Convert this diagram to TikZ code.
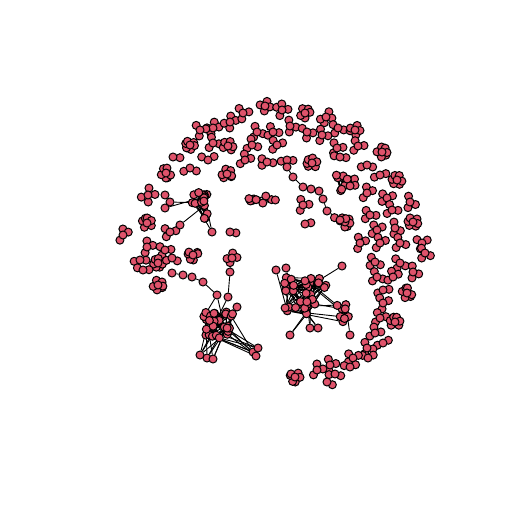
\documentclass[tikz,border=0pt]{standalone}
\usepackage{tikz}
\usetikzlibrary{calc}
\pgfdeclarelayer{bg}
\pgfsetlayers{bg,main}
\definecolor{vcol}{HTML}{DF536B}
\tikzset{
  vtx/.style={circle, draw=black, fill=vcol, line width=1pt, inner sep=0pt, minimum size=8pt},
  edg/.style={black, line width=0.9pt},
}

\begin{document}
\begin{tikzpicture}[x=1pt, y=-1pt]
  \useasboundingbox (0,0) rectangle (512,511);
  \pgfmathsetseed{11}
  % small components: ring of vertices round a centre vertex
  \foreach \nm/\x/\y/\n/\r in {
      g1/213/128/4/6, g2/230/122/4/6, g3/243/113/3/6, g4/265/106/4/5,
      g5/282/110/4/6, g6/305/113/5/5, g7/326/117/4/6, g8/338/128/3/6,
      g9/355/130/5/5, g10/290/126/3/6, g11/307/132/3/6, g12/322/135/3/6,
      g13/257/132/3/6, g14/273/132/3/6, g15/200/130/3/6, g17/190/145/6/4.5,
      g18/213/143/3/6, g19/228/146/5/5, g20/252/145/3/6, g21/277/145/3/6,
      g22/337/148/3/6, g23/358/146/3/6, g24/382/152/6/5, g25/173/157/1/7,
      g26/245/160/3/6, g27/267/162/3/6, g28/287/160/2/6, g29/312/163/6/5,
      g30/340/157/2/6, g31/367/165/2/6, g33/166/173/6/5, g34/227/174/6/5,
      g35/190/168/2/7, g36/208/160/2/7, g37/148/195/4/7, g38/147/223/6/5,
      g39/123/235/3/6, g40/170/232/3/6, g41/230/232/1/6, g43/397/180/6/5,
      g44/380/175/2/6, g45/367/193/3/6, g46/387/198/3/6, g47/410/202/3/6,
      g48/303/205/3/6, g50/345/222/6/5, g51/305/224/1/6, g52/370/215/3/6,
      g53/392/210/3/6, g54/413/222/6/5, g55/377/230/3/6, g56/395/228/3/6,
      g57/360/243/3/6, g58/380/243/3/6, g59/400/243/3/6, g60/422/243/3/6,
      g61/425/253/3/6, g62/375/262/3/6, g63/400/263/3/6, g64/413/272/3/6,
      g65/377/277/3/6, g66/393/277/3/6, g67/407/293/6/5, g68/383/290/2/6,
      g69/383/303/3/6, g70/380/318/3/6, g71/395/322/6/5, g72/375/333/3/6,
      g73/383/343/2/6, g74/367/348/3/6, g75/368/358/2/6, g76/353/358/3/6,
      g77/350/367/2/6, g78/330/365/3/6, g79/335/374/2/6, g80/317/370/3/6,
      g81/327/382/1/6, g82/295/377/6/5, g83/147/247/3/6, g84/165/250/3/6,
      g85/193/255/6/5, g86/140/260/2/6, g87/158/263/6/4.5, g88/143/270/2/6,
      g89/172/258/2/6, g90/158/285/6/5, gA/232/258/4/5, g91/340/220/2/6}{
    \foreach \k in {1,...,\n}{
      \pgfmathsetmacro{\ang}{360*\k/\n+30*rand}
      \node[vtx] (\nm-\k) at ($(\x,\y)+(\ang:\r)$) {};
    }
    \node[vtx] (\nm-0) at (\x,\y) {};
    \begin{pgfonlayer}{bg}
      \foreach \k in {1,...,\n} \draw[edg] (\nm-0) -- (\nm-\k);
    \end{pgfonlayer}
  }
  % dense components
  \foreach \hn/\hx/\hy/\hrx/\hry/\hk in {A/218/326/17/14/28, B/305/296/21/19/32,
      C/199/205/10/14/16, D/346/183/11/8/11, E/265/200/17/4/9, S/343/312/6/10/8}{
    \foreach \k in {1,...,\hk}{
      \pgfmathsetmacro{\ax}{\hx+\hrx*rand}
      \pgfmathsetmacro{\ay}{\hy+\hry*rand}
      \node[vtx] (\hn\k) at (\ax,\ay) {};
    }
    \begin{pgfonlayer}{bg}
      \foreach \k in {1,...,\hk}{
        \foreach \m in {1,2,3}{
          \pgfmathtruncatemacro{\j}{min(\hk,1+floor(rnd*\hk))}
          \draw[edg] (\hn\k) -- (\hn\j);
        }
      }
    \end{pgfonlayer}
  }
  % spokes
  \node[vtx] (a1) at (172,273) {};
  \node[vtx] (a2) at (183,275) {};
  \node[vtx] (a3) at (192,277) {};
  \node[vtx] (a4) at (203,282) {};
  \node[vtx] (a5) at (217,295) {};
  \node[vtx] (a6) at (228,297) {};
  \node[vtx] (a7) at (237,307) {};
  \node[vtx] (a8) at (230,272) {};
  \node[vtx] (f1) at (200,355) {};
  \node[vtx] (f2) at (207,358) {};
  \node[vtx] (f3) at (213,359) {};
  \node[vtx] (f4) at (253,352) {};
  \node[vtx] (f5) at (258,348) {};
  \node[vtx] (f6) at (256,356) {};
  \node[vtx] (b1) at (276,270) {};
  \node[vtx] (b2) at (286,268) {};
  \node[vtx] (b3) at (342,266) {};
  \node[vtx] (b4) at (290,335) {};
  \node[vtx] (b5) at (310,328) {};
  \node[vtx] (b6) at (318,328) {};
  \node[vtx] (b7) at (350,335) {};
  \node[vtx] (c1) at (165,195) {};
  \node[vtx] (c2) at (170,202) {};
  \node[vtx] (c3) at (165,208) {};
  \node[vtx] (c4) at (180,225) {};
  \node[vtx] (c5) at (212,232) {};
  \node[vtx] (t1) at (287,167) {};
  \node[vtx] (t2) at (293,177) {};
  \node[vtx] (t3) at (303,187) {};
  \node[vtx] (t4) at (311,189) {};
  \node[vtx] (t5) at (319,191) {};
  \node[vtx] (t6) at (323,199) {};
  \node[vtx] (t7) at (327,211) {};
  \begin{pgfonlayer}{bg}
    \draw[edg] (a1) -- (a2) -- (a3) -- (a4) -- (a5);
    \draw[edg] (gA-0) -- (a8) -- (a6);
    \draw[edg] (c1) -- (c2) -- (c3);
    \draw[edg] (c4) -- (g40-0);
    \draw[edg] (t1) -- (t2) -- (t3) -- (t4) -- (t5) -- (t6) -- (t7) -- (g91-0);
    \foreach \s/\h/\m in {a5/A/28, a5/A/28, a6/A/28, a7/A/28, a7/A/28,
        f1/A/28, f1/A/28, f1/A/28, f1/A/28, f2/A/28, f2/A/28, f2/A/28, f3/A/28,
        f3/A/28, f3/A/28, f4/A/28, f4/A/28, f4/A/28, f4/A/28, f5/A/28,
        f5/A/28, f5/A/28, f6/A/28, f6/A/28, f6/A/28,
        b1/B/32, b2/B/32, b3/B/32, b4/B/32, b4/B/32, b5/B/32, b5/B/32, b6/B/32,
        b6/B/32, b7/S/8, S1/B/32, S2/B/32, S3/B/32, S4/B/32, S5/B/32, S6/B/32,
        c2/C/16, c3/C/16, c4/C/16, c5/C/16, c5/C/16}{
      \pgfmathtruncatemacro{\j}{min(\m,1+floor(rnd*\m))}
      \draw[edg] (\s) -- (\h\j);
    }
  \end{pgfonlayer}
\end{tikzpicture}
\end{document}
